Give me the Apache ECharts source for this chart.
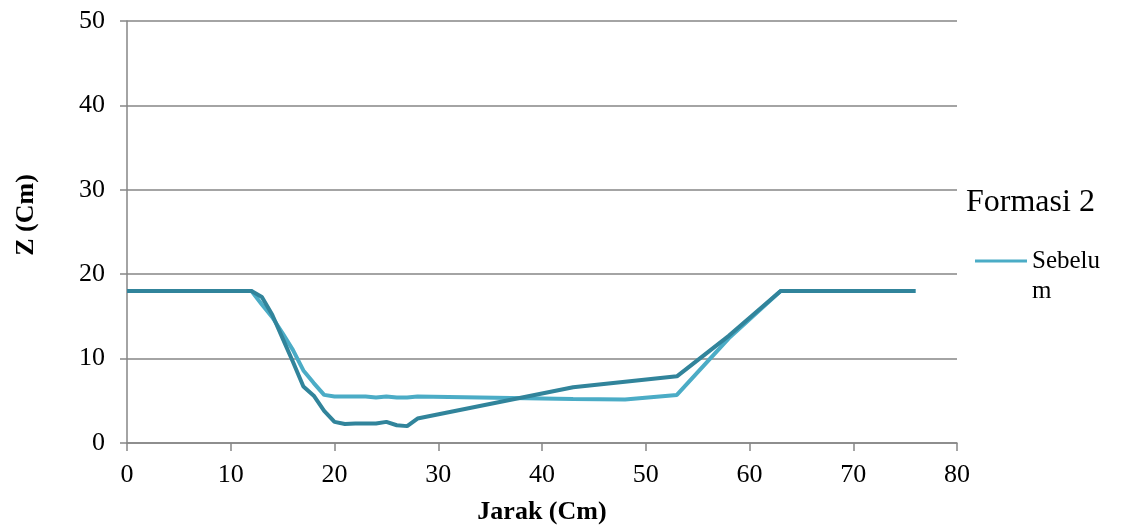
<!DOCTYPE html>
<html><head><meta charset="utf-8">
<script src="https://cdn.jsdelivr.net/npm/echarts@6/dist/echarts.min.js"></script>
<style>html,body{margin:0;padding:0;background:#fff}#c{width:1121px;height:527px}</style>
</head><body><div id="c"></div>
<script>
const xTicks = [0,10,20,30,40,50,60,70,80];
const yTicks = [0,10,20,30,40,50];
const sebelumX = [0,12,13,14,15,16,17,18,19,20,21,22,23,24,25,26,27,28,43,48,53,58,63,76];
const sebelumY = [18,18,16.4,14.9,13.0,11.0,8.6,7.1,5.7,5.5,5.5,5.5,5.5,5.4,5.5,5.4,5.4,5.5,5.2,5.15,5.7,12.4,18,18];
const sesudahX = [0,12,13,14,15,16,17,18,19,20,21,22,23,24,25,26,27,28,43,53,58,63,76];
const sesudahY = [18,18,17.3,15.2,12.4,9.6,6.7,5.6,3.8,2.5,2.25,2.3,2.3,2.3,2.5,2.1,2.0,2.9,6.6,7.9,12.7,18,18];
const font = '"Liberation Serif", "Times New Roman", serif';
const chart = echarts.init(document.getElementById('c'));
chart.setOption({
  animation:false,
  textStyle:{fontFamily:font},
  title:{text:'Formasi 2', left:966, top:187, padding:0, textStyle:{fontFamily:font,fontSize:32,fontWeight:'normal',color:'#000'}},
  legend:{data:['Sebelum'], left:975, top:246, padding:0, orient:'vertical', itemWidth:52, itemHeight:33, itemGap:5,
    textStyle:{fontFamily:font,fontSize:25,color:'#000',width:76,overflow:'breakAll',lineHeight:30},
    icon:'path://M0,0L52,0L52,3L0,3Z M0,33L0.01,33L0,33Z'},
  grid:{left:127, right:164, top:21, bottom:84, containLabel:false, outerBoundsMode:'none'},
  xAxis:{type:'value', min:0, max:80, interval:10,
    name:'Jarak (Cm)', nameLocation:'middle', nameGap:56,
    nameTextStyle:{fontFamily:font,fontSize:26,fontWeight:'bold',color:'#000'},
    axisLine:{show:true,onZero:false,lineStyle:{color:'#868686',width:1.5}},
    axisTick:{show:true,length:8,lineStyle:{color:'#868686',width:1.5}},
    axisLabel:{fontFamily:font,fontSize:26,color:'#000',margin:19,formatter:v=>xTicks.includes(v)?String(v):''},
    splitLine:{show:false}},
  yAxis:{type:'value', min:0, max:50, interval:10,
    name:'Z (Cm)', nameLocation:'middle', nameGap:88,
    nameTextStyle:{fontFamily:font,fontSize:26,fontWeight:'bold',color:'#000',padding:[0,0,0,34]},
    axisLine:{show:true,lineStyle:{color:'#868686',width:1.5}},
    axisTick:{show:true,length:7,lineStyle:{color:'#868686',width:1.5}},
    axisLabel:{fontFamily:font,fontSize:26,color:'#000',margin:22,formatter:v=>yTicks.includes(v)?String(v):''},
    splitLine:{show:true,lineStyle:{color:'#868686',width:1.5}}},
  series:[
    {name:'Sebelum', type:'line', data:sebelumX.map((x,i)=>[x,sebelumY[i]]), showSymbol:false, symbol:'none',
      lineStyle:{color:'#4BACC6',width:4}, itemStyle:{color:'#4BACC6'}, z:2},
    {name:'Sesudah', type:'line', data:sesudahX.map((x,i)=>[x,sesudahY[i]]), showSymbol:false, symbol:'none',
      lineStyle:{color:'#31849B',width:4}, itemStyle:{color:'#31849B'}, z:3}
  ]
});
</script></body></html>
